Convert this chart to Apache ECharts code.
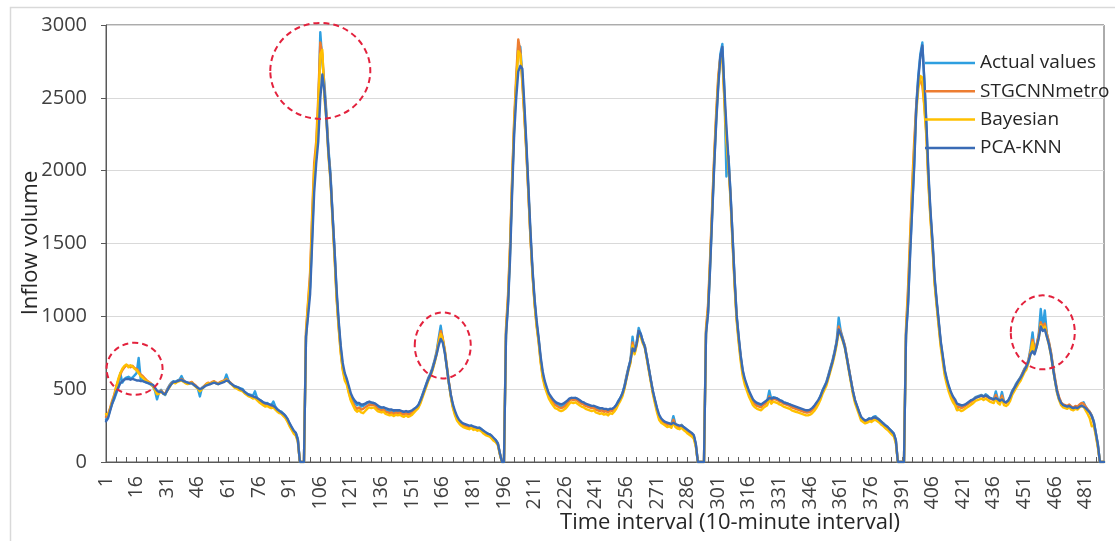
<!DOCTYPE html>
<html>
<head>
<meta charset="utf-8">
<script src="https://cdn.jsdelivr.net/npm/echarts@6/dist/echarts.min.js"></script>
<style>
html,body{margin:0;padding:0;background:#fff;}
#chart{width:1115px;height:541px;}
</style>
</head>
<body>
<div id="chart"></div>
<script>
// ---- Data ----
const seriesNames = ['Actual values', 'STGCNNmetro', 'Bayesian', 'PCA-KNN'];
const yTicks = [0, 500, 1000, 1500, 2000, 2500, 3000];

const actualDay1 = [290,310,360,400,430,470,510,610,545,570,
580,585,575,580,595,610,715,570,560,550,
545,540,530,520,490,430,480,495,470,460,
500,525,545,555,550,560,565,590,560,550,
545,540,545,530,520,505,450,510,520,530,
540,535,545,550,540,535,545,550,560,600,
560,540,530,520,515,510,505,500,480,470,
465,460,455,485,440,430,420,410,400,405,
395,390,415,380,360,350,345,330,315,290,
260,235,210,200,160,0,0,0];
const actualDay2 = [860,1050,1200,1550,1950,2100,2380,2950,2750,2600,
2400,2150,1980,1700,1450,1150,950,780,650,590,
560,500,450,430,405,390,400,380,385,395,
405,410,400,405,395,375,370,365,375,355,
350,345,350,340,355,345,350,340,335,345,
330,340,350,360,375,385,420,460,500,540,
580,610,650,700,760,850,935,840,760,650,
540,450,380,340,300,280,260,255,250,245,
240,250,235,240,230,235,225,210,200,195,
190,175,160,150,130,60,0,0];
const actualDay3 = [880,1100,1450,1900,2300,2600,2860,2850,2650,2400,
2150,1850,1550,1300,1100,950,840,700,600,540,
500,460,440,420,400,395,385,380,385,395,
410,430,440,435,440,430,420,410,405,395,
390,385,380,385,370,365,360,365,355,360,
350,365,360,370,390,420,440,470,520,590,
650,700,860,750,820,920,880,830,800,720,
640,560,480,420,360,310,290,280,270,260,
265,255,315,260,250,245,255,240,230,215,
205,195,180,120,0,0,0,0];
const actualDay4 = [890,1030,1350,1700,2050,2350,2600,2800,2870,2550,
1960,2100,1850,1550,1250,1000,850,720,620,560,
520,480,450,420,405,395,390,385,400,410,
420,490,430,445,440,435,425,420,410,405,
400,395,385,380,375,370,365,360,355,350,
350,355,365,380,400,420,450,490,520,550,
600,650,700,760,830,990,900,850,800,720,
640,560,480,420,380,340,300,290,280,290,
300,295,310,315,300,290,275,265,250,240,
225,210,195,150,0,0,0,0];
const actualDay5 = [880,1100,1450,1750,2050,2450,2650,2800,2880,2600,
2300,1950,1700,1500,1250,1100,960,820,720,620,
560,510,470,440,420,360,390,380,385,390,
400,410,420,430,445,450,455,460,450,465,
455,440,435,430,485,430,420,480,415,410,
420,450,490,510,540,560,580,610,640,660,
700,780,890,760,800,870,1050,920,1040,880,
820,750,650,560,480,430,400,390,385,380,
390,375,370,380,375,390,400,410,380,360,
345,320,280,200,120,0,0,0];

const stgDay1 = [310,330,370,420,460,520,560,600,630,650,
665,660,650,660,645,640,620,600,590,575,
560,550,540,525,500,470,475,490,475,470,
495,520,540,550,545,555,560,570,560,545,
540,545,550,535,525,510,490,505,520,535,
545,540,550,555,545,540,550,555,560,570,
555,545,530,515,510,500,495,490,475,465,
455,450,440,445,430,420,405,395,385,390,
380,375,380,365,350,340,335,320,305,280,
250,225,205,190,150,0,0,0];
const stgDay2 = [900,1100,1300,1700,2050,2200,2500,2880,2800,2560,
2380,2120,1950,1680,1420,1130,930,760,640,575,
545,480,430,405,380,365,375,360,365,375,
385,395,390,395,385,365,360,355,360,345,
340,335,340,330,340,335,340,330,325,335,
325,330,340,355,370,380,410,450,490,530,
570,600,640,690,750,830,900,850,770,660,
550,455,380,330,295,275,260,250,245,240,
235,245,230,235,225,230,220,205,195,190,
185,170,155,145,125,55,0,0];
const stgDay3 = [920,1150,1500,1950,2350,2650,2900,2820,2600,2370,
2120,1830,1530,1290,1090,940,830,690,590,530,
490,450,430,410,390,385,375,370,375,385,
400,420,430,425,430,420,410,400,395,385,
380,375,370,375,360,355,350,355,345,350,
340,355,350,360,380,410,430,460,510,580,
640,690,820,750,810,900,870,825,795,715,
635,555,475,415,355,305,285,275,265,255,
260,250,290,255,245,240,250,235,225,210,
200,190,175,115,0,0,0,0];
const stgDay4 = [920,1080,1400,1750,2100,2400,2650,2780,2800,2500,
2250,2050,1820,1520,1230,990,840,710,610,550,
510,470,440,410,395,385,380,375,390,400,
410,450,420,435,430,425,415,410,400,395,
390,385,375,370,365,360,355,350,345,340,
340,345,355,370,390,410,440,480,510,540,
590,640,690,750,820,930,890,845,800,720,
640,560,480,420,380,340,300,290,280,285,
295,290,300,305,295,285,270,260,245,235,
220,205,190,145,0,0,0,0];
const stgDay5 = [920,1200,1550,1900,2200,2440,2600,2620,2580,2450,
2250,1920,1680,1480,1240,1090,950,810,710,610,
550,500,460,430,410,375,380,370,375,385,
395,405,415,425,440,445,450,455,445,455,
445,435,430,425,460,425,415,455,410,405,
415,440,480,505,530,555,575,605,635,655,
700,760,840,770,810,870,960,930,950,880,
825,755,660,575,495,445,410,395,390,385,
395,380,375,385,380,395,405,400,380,360,
345,315,270,190,110,0,0,0];

const bayDay1 = [330,320,360,410,450,510,570,610,640,660,
670,650,665,655,640,630,610,590,580,565,
555,545,535,520,495,465,470,485,470,465,
490,510,535,545,540,550,555,560,550,540,
535,540,545,530,515,505,485,500,515,530,
540,535,545,550,540,535,545,550,555,565,
550,540,525,510,505,495,490,485,470,460,
450,445,435,440,425,410,400,390,380,385,
375,370,375,360,345,335,330,315,300,275,
245,220,195,180,140,0,0,0];
const bayDay2 = [880,1080,1250,1650,2000,2150,2450,2800,2830,2500,
2350,2100,1930,1660,1400,1120,920,750,630,560,
530,470,420,390,360,345,355,340,335,350,
365,375,370,375,365,350,345,340,345,330,
325,320,325,315,325,320,325,315,310,320,
310,315,325,340,355,370,400,440,480,520,
560,590,630,680,740,820,880,840,760,650,
540,445,370,320,285,265,250,240,235,230,
225,235,220,225,215,220,210,195,185,180,
175,160,145,135,115,50,0,0];
const bayDay3 = [900,1120,1470,1920,2320,2600,2820,2800,2620,2380,
2130,1840,1540,1280,1080,930,820,680,575,515,
475,435,410,390,370,365,355,350,355,365,
380,400,410,405,410,400,390,380,375,365,
360,355,350,355,340,335,330,335,325,330,
320,335,330,345,365,395,420,450,500,570,
630,680,800,740,800,880,860,815,785,705,
625,545,465,400,340,290,270,260,250,240,
245,235,270,240,230,225,235,220,210,195,
185,175,160,105,0,0,0,0];
const bayDay4 = [900,1050,1370,1720,2070,2370,2620,2760,2780,2480,
2200,2030,1800,1500,1210,970,820,690,590,530,
490,450,420,390,375,365,360,355,370,380,
390,430,400,415,410,405,395,390,380,375,
370,365,355,350,345,340,335,330,325,320,
320,325,335,350,370,395,425,465,495,525,
575,625,675,735,805,900,870,830,785,705,
625,545,465,405,365,325,285,275,265,270,
280,275,285,290,280,270,255,245,230,220,
205,190,175,130,0,0,0,0];
const bayDay5 = [900,1150,1500,1850,2150,2400,2560,2650,2640,2420,
2230,1900,1660,1460,1220,1070,930,790,690,590,
530,480,440,410,390,355,360,350,355,365,
375,385,395,405,420,425,430,435,425,435,
425,415,410,405,440,405,395,435,390,385,
395,420,460,485,510,535,555,585,615,635,
680,740,820,750,790,850,940,910,930,860,
805,735,640,555,475,425,390,375,370,365,
375,360,355,365,360,375,385,380,355,330,
300,245,250,180,100,0,0,0];

const pcaDay1 = [280,300,350,400,440,480,510,540,555,565,
570,570,565,570,565,560,560,555,555,550,
545,540,535,530,510,490,480,485,470,465,
490,515,535,550,550,555,560,565,555,550,
545,540,540,530,520,510,500,505,515,525,
530,535,540,545,540,535,540,545,550,560,
555,540,530,520,515,510,500,495,480,470,
460,455,450,445,440,430,420,410,405,400,
395,390,385,375,360,350,340,330,315,295,
265,240,215,200,150,0,0,0];
const pcaDay2 = [860,1000,1150,1500,1850,2050,2200,2500,2660,2550,
2350,2130,1950,1700,1450,1180,970,800,680,610,
570,520,470,440,420,405,405,395,395,400,
410,415,410,405,400,390,380,375,375,370,
365,360,360,355,355,355,355,350,345,350,
345,350,355,365,375,390,420,455,495,535,
570,600,640,690,740,800,845,820,750,650,
545,460,395,350,315,290,275,265,260,255,
250,250,245,240,235,235,225,215,205,195,
190,180,165,150,125,60,0,0];
const pcaDay3 = [870,1080,1400,1850,2250,2500,2680,2720,2700,2450,
2180,1880,1580,1320,1120,970,850,720,620,555,
510,470,450,430,415,405,400,395,400,410,
420,435,440,440,440,435,425,415,410,400,
395,390,385,385,380,375,370,370,365,365,
360,365,365,375,390,415,440,470,515,575,
640,700,780,760,810,900,880,830,790,720,
640,560,485,425,370,325,300,285,275,270,
265,260,270,260,255,250,250,240,230,220,
210,200,185,125,0,0,0,0];
const pcaDay4 = [880,1020,1330,1680,2030,2330,2580,2780,2850,2560,
2300,2080,1840,1550,1260,1010,860,730,630,570,
530,490,460,430,415,405,400,395,405,415,
425,440,435,440,440,435,425,420,410,405,
400,395,390,385,380,375,370,365,360,355,
355,360,370,385,405,425,450,485,515,545,
590,640,690,750,820,910,880,840,790,715,
635,560,485,425,385,345,310,295,285,290,
298,298,305,305,298,288,275,262,250,240,
225,210,195,150,0,0,0,0];
const pcaDay5 = [870,1080,1420,1730,2030,2420,2630,2780,2860,2620,
2320,1980,1720,1510,1270,1110,970,830,730,630,
570,520,480,450,430,400,395,390,390,395,
405,415,425,430,440,445,450,455,450,455,
450,440,435,430,440,430,420,430,415,410,
420,445,480,505,530,555,575,600,630,655,
690,740,760,740,790,850,930,900,910,860,
810,740,645,560,485,435,405,390,385,380,
385,375,370,375,370,380,385,380,370,355,
340,315,275,200,120,0,0,0];

// ---- Build ----
const actualValues = [].concat(actualDay1, actualDay2, actualDay3, actualDay4, actualDay5);
const stgValues = [].concat(stgDay1, stgDay2, stgDay3, stgDay4, stgDay5);
const bayValues = [].concat(bayDay1, bayDay2, bayDay3, bayDay4, bayDay5);
const pcaValues = [].concat(pcaDay1, pcaDay2, pcaDay3, pcaDay4, pcaDay5);
const categories = actualValues.map((_, i) => String(i + 1));

// annotation circles: centre in data coords (category label, value)
const highlightCentres = [['15', 640], ['106', 2685], ['166', 800], ['460', 890]];

const FONT = 'Open Sans';
const colors = ['#2E9FE0', '#ED7D31', '#FFC000', '#3A6BB5'];
const chart = echarts.init(document.getElementById('chart'), null, {renderer: 'canvas', width: 1115, height: 541});

function lineSeries(name, data, color) {
  return {
    name: name, type: 'line', data: data, symbol: 'none', showSymbol: false, smooth: false,
    lineStyle: {color: color, width: 2.4, join: 'round', cap: 'round'},
    itemStyle: {color: color},
    emphasis: {disabled: true}, animation: false
  };
}

chart.setOption({
  animation: false,
  textStyle: {fontFamily: FONT},
  grid: {left: 106, top: 25, right: 11, bottom: 79, show: true, borderColor: '#595959', borderWidth: 1, containLabel: false},
  legend: {
    data: seriesNames.map((n) => ({name: n, icon: 'rect'})),
    orient: 'vertical', left: 925, top: 53, padding: 0,
    itemWidth: 50, itemHeight: 2.5, itemGap: 8.3,
    textStyle: {fontFamily: FONT, fontSize: 19, color: '#262626', lineHeight: 20}
  },
  xAxis: {
    type: 'category', data: categories, boundaryGap: false,
    axisLine: {show: true, lineStyle: {color: '#595959', width: 1}},
    axisTick: {show: true, inside: true, length: 5, interval: (i) => i % 5 === 0, lineStyle: {color: '#595959'}},
    axisLabel: {interval: (i) => i % 15 === 0, rotate: 90, margin: 14, fontSize: 19.5, color: '#404040', fontFamily: FONT},
    splitLine: {show: false}
  },
  yAxis: {
    type: 'value', min: yTicks[0], max: yTicks[yTicks.length - 1], interval: 500,
    axisLine: {show: true, lineStyle: {color: '#595959', width: 1}},
    axisTick: {show: true, inside: false, length: 5, lineStyle: {color: '#595959'}},
    axisLabel: {fontSize: 20, color: '#404040', margin: 19, fontFamily: FONT, formatter: (v) => String(v)},
    splitLine: {show: true, lineStyle: {color: '#D9D9D9', width: 1}}
  },
  series: [
    lineSeries(seriesNames[0], actualValues, colors[0]),
    lineSeries(seriesNames[1], stgValues, colors[1]),
    lineSeries(seriesNames[2], bayValues, colors[2]),
    lineSeries(seriesNames[3], pcaValues, colors[3])
  ]
});

const radii = [[28, 26], [50, 48], [28, 33], [32, 37]];
const ellipses = highlightCentres.map((c, k) => {
  const p = chart.convertToPixel({xAxisIndex: 0, yAxisIndex: 0}, c);
  return {
    type: 'ellipse', id: 'hl' + k, z: 100,
    shape: {cx: p[0], cy: p[1], rx: radii[k][0], ry: radii[k][1]},
    style: {fill: null, stroke: '#E3223D', lineWidth: 2, lineDash: [6, 4]}
  };
});

chart.setOption({
  graphic: [
    {type: 'rect', id: 'frame', z: -1, shape: {x: 10.5, y: 7.5, width: 1130, height: 560},
     style: {fill: null, stroke: '#D9D9D9', lineWidth: 1.5}},
    {type: 'text', id: 'ytitle', x: 31, y: 243, rotation: Math.PI / 2,
     style: {text: 'Inflow volume', fontFamily: FONT, fontSize: 22, fill: '#262626', align: 'center', verticalAlign: 'middle'}},
    {type: 'text', id: 'xtitle', x: 730, y: 523,
     style: {text: 'Time interval (10-minute interval)', fontFamily: FONT, fontSize: 22, fill: '#262626', align: 'center', verticalAlign: 'middle'}}
  ].concat(ellipses)
});
</script>
</body>
</html>
